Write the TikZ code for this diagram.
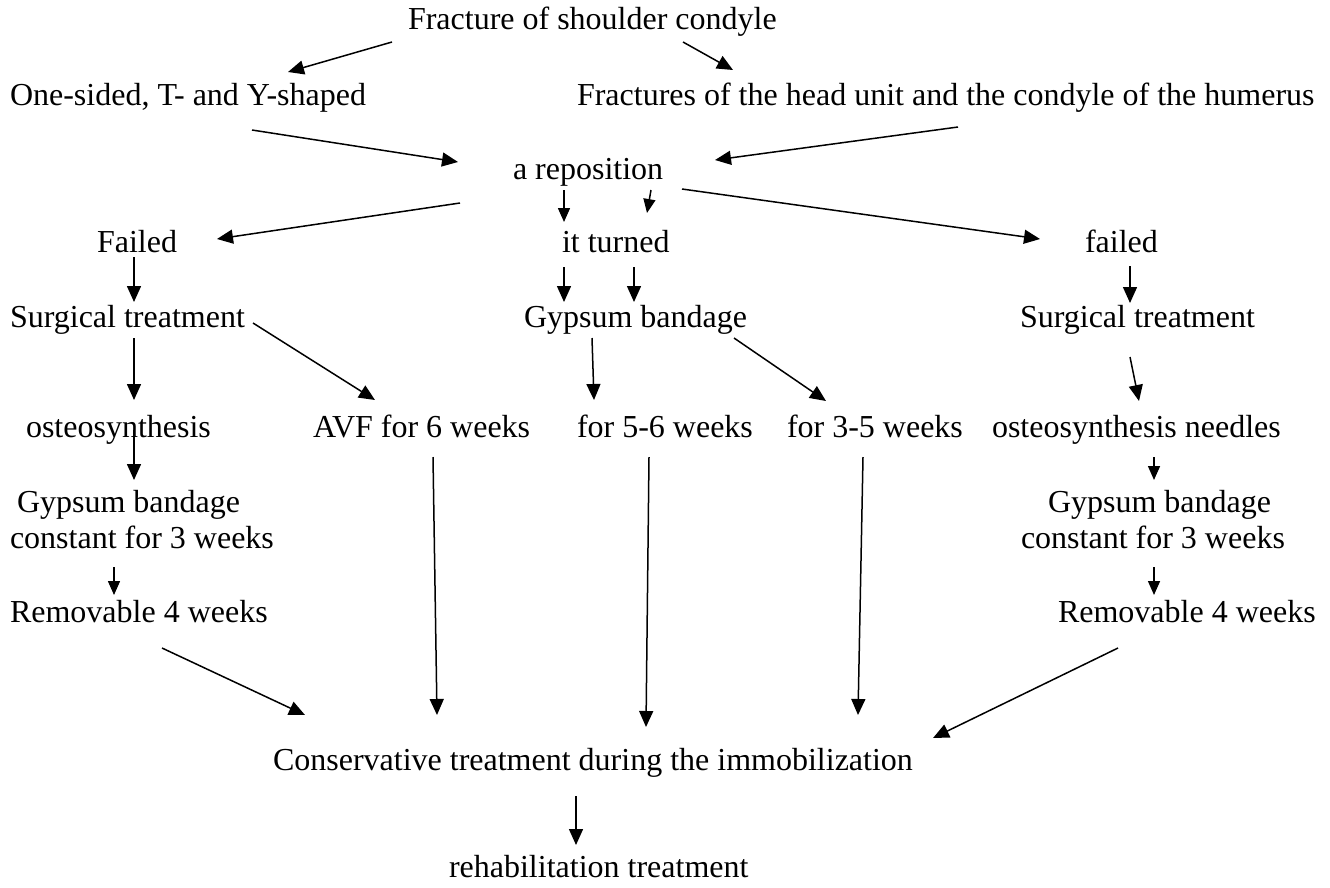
\documentclass[tikz,border=0pt]{standalone}
\usepackage{fontspec}
\setmainfont{Liberation Serif}
\usetikzlibrary{arrows.meta}

\begin{document}
\begin{tikzpicture}[x=1pt,y=-1pt,
  lbl/.style={anchor=base west,inner sep=0pt,outer sep=0pt,
    font=\fontsize{32}{36}\selectfont},
  arr/.style={line width=1.5pt,-{Triangle[length=16pt,width=14pt]}},
  sarr/.style={line width=1.5pt,-{Triangle[length=14pt,width=12pt]}}]

\fill[white] (0,0) rectangle (1330,887);
\useasboundingbox (0,0) rectangle (1330,887);

% labels, each placed by its baseline start
\node[lbl] (fr)   at (408,29)  {Fracture of shoulder condyle};
\node[lbl] (one)  at (10,105)  {One-sided, T- and Y-shaped};
\node[lbl] (frh)  at (577,105) {Fractures of the head unit and the condyle of the humerus};
\node[lbl] (rep)  at (513,179) {a reposition};
\node[lbl] (fl)   at (97,252)  {Failed};
\node[lbl] (itt)  at (562,252) {it turned};
\node[lbl] (flr)  at (1085,252){failed};
\node[lbl] (st1)  at (10,327)  {Surgical treatment};
\node[lbl] (gb)   at (524,327) {Gypsum bandage};
\node[lbl] (st2)  at (1020,327){Surgical treatment};
\node[lbl] (os)   at (26,437)  {osteosynthesis};
\node[lbl] (avf)  at (313,437) {AVF for 6 weeks};
\node[lbl] (w56)  at (577,437) {for 5-6 weeks};
\node[lbl] (w35)  at (787,437) {for 3-5 weeks};
\node[lbl] (osn)  at (992,437) {osteosynthesis needles};
\node[lbl] (gbL)  at (17,512)  {Gypsum bandage};
\node[lbl] (cL)   at (10,548)  {constant for 3 weeks};
\node[lbl] (gbR)  at (1048,512){Gypsum bandage};
\node[lbl] (cR)   at (1021,548){constant for 3 weeks};
\node[lbl] (rmL)  at (10,622)  {Removable 4 weeks};
\node[lbl] (rmR)  at (1058,622){Removable 4 weeks};
\node[lbl] (cons) at (273,770) {Conservative treatment during the immobilization};
\node[lbl] (reh)  at (449,877) {rehabilitation treatment};

% connectors, offsets measured from each label's baseline start
\draw[arr] ([shift={(-16,13)}]fr.base west)   -- ([shift={(278,-33)}]one.base west);
\draw[arr] ([shift={(275,13)}]fr.base west)   -- ([shift={(156,-35)}]frh.base west);
\draw[arr] ([shift={(242,25)}]one.base west)  -- ([shift={(-55,-17)}]rep.base west);
\draw[arr] ([shift={(381,22)}]frh.base west)  -- ([shift={(202,-19)}]rep.base west);
\draw[arr] ([shift={(-53,24)}]rep.base west)  -- ([shift={(120,-13)}]fl.base west);
\draw[sarr] ([shift={(51,11)}]rep.base west)  -- ([shift={(2,-30)}]itt.base west);
\draw[sarr] ([shift={(138,11)}]rep.base west) -- ([shift={(85,-39)}]itt.base west);
\draw[arr] ([shift={(169,10)}]rep.base west)  -- ([shift={(-45,-13)}]flr.base west);
\draw[arr] ([shift={(37,5)}]fl.base west)     -- ([shift={(124,-25)}]st1.base west);
\draw[arr] ([shift={(2,15)}]itt.base west)    -- ([shift={(40,-25)}]gb.base west);
\draw[arr] ([shift={(72,15)}]itt.base west)   -- ([shift={(110,-25)}]gb.base west);
\draw[arr] ([shift={(45,14)}]flr.base west)   -- ([shift={(110,-24)}]st2.base west);
\draw[arr] ([shift={(124,11)}]st1.base west)  -- ([shift={(108,-37)}]os.base west);
\draw[arr] ([shift={(243,-4)}]st1.base west)  -- ([shift={(62,-37)}]avf.base west);
\draw[arr] ([shift={(68,11)}]gb.base west)    -- ([shift={(17,-37)}]w56.base west);
\draw[arr] ([shift={(210,11)}]gb.base west)   -- ([shift={(39,-36)}]w35.base west);
\draw[arr] ([shift={(110,30)}]st2.base west)  -- ([shift={(147,-36)}]osn.base west);
\draw[arr] ([shift={(108,-7)}]os.base west)   -- ([shift={(117,-32)}]gbL.base west);
\draw[sarr] ([shift={(104,19)}]cL.base west)  -- ([shift={(104,-27)}]rmL.base west);
\draw[sarr] ([shift={(162,20)}]osn.base west) -- ([shift={(106,-32)}]gbR.base west);
\draw[sarr] ([shift={(133,19)}]cR.base west)  -- ([shift={(96,-27)}]rmR.base west);
\draw[arr] ([shift={(152,26)}]rmL.base west)  -- ([shift={(32,-55)}]cons.base west);
\draw[arr] ([shift={(120,20)}]avf.base west)  -- ([shift={(164,-55)}]cons.base west);
\draw[arr] ([shift={(72,20)}]w56.base west)   -- ([shift={(373,-43)}]cons.base west);
\draw[arr] ([shift={(76,20)}]w35.base west)   -- ([shift={(585,-55)}]cons.base west);
\draw[arr] ([shift={(60,26)}]rmR.base west)   -- ([shift={(660,-32)}]cons.base west);
\draw[arr] ([shift={(303,26)}]cons.base west) -- ([shift={(127,-32)}]reh.base west);

\end{tikzpicture}
\end{document}
